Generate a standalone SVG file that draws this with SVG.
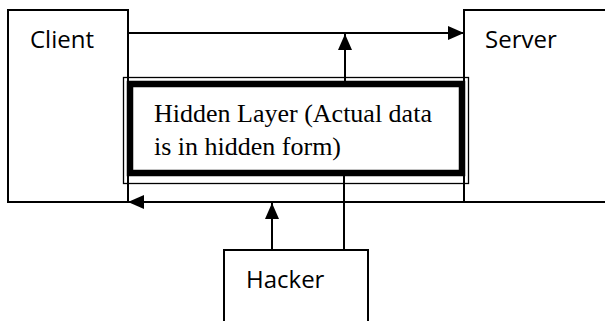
<svg xmlns="http://www.w3.org/2000/svg" width="605" height="321" viewBox="0 0 605 321">
  <style>
    .box { fill: none; stroke: #000; stroke-width: 2; }
    .lbl { font-family: "Open Sans", "Liberation Sans", sans-serif; font-size: 24px; fill: #000; }
    .serif { font-family: "Liberation Serif", "Times New Roman", serif; font-size: 26px; fill: #000; }
    .wire { fill: none; stroke: #000; stroke-width: 2; }
  </style>
  <defs>
    <marker id="arrow" viewBox="0 0 16 14" refX="16" refY="7" markerWidth="16" markerHeight="14" markerUnits="userSpaceOnUse" orient="auto">
      <path d="M0,0 L16,7 L0,14 Z" fill="#000"/>
    </marker>
  </defs>
  <rect width="605" height="321" fill="#fff"/>

  <g id="client">
    <rect class="box" x="8" y="10" width="120" height="192"/>
    <text class="lbl" x="30" y="48">Client</text>
  </g>

  <g id="server">
    <rect class="box" x="464" y="10" width="150" height="192"/>
    <text class="lbl" x="485" y="48">Server</text>
  </g>

  <g id="hidden-layer">
    <rect x="123.5" y="77.5" width="345" height="106" fill="none" stroke="#000" stroke-width="1.3"/>
    <rect x="130" y="84" width="332" height="89" fill="#fff" stroke="#000" stroke-width="6.5"/>
    <text class="serif" x="154" y="122">Hidden Layer (Actual data</text>
    <text class="serif" x="154" y="155">is in hidden form)</text>
  </g>

  <g id="hacker">
    <rect class="box" x="224" y="250" width="144" height="90"/>
    <text class="lbl" x="246" y="288">Hacker</text>
  </g>

  <g id="connectors">
    <line class="wire" x1="128" y1="33" x2="464" y2="33" marker-end="url(#arrow)"/>
    <line class="wire" x1="345" y1="81" x2="345" y2="34" marker-end="url(#arrow)"/>
    <line class="wire" x1="464" y1="202" x2="128" y2="202" marker-end="url(#arrow)"/>
    <line class="wire" x1="272" y1="250" x2="272" y2="203" marker-end="url(#arrow)"/>
    <line class="wire" x1="344" y1="176" x2="344" y2="250"/>
  </g>
</svg>
